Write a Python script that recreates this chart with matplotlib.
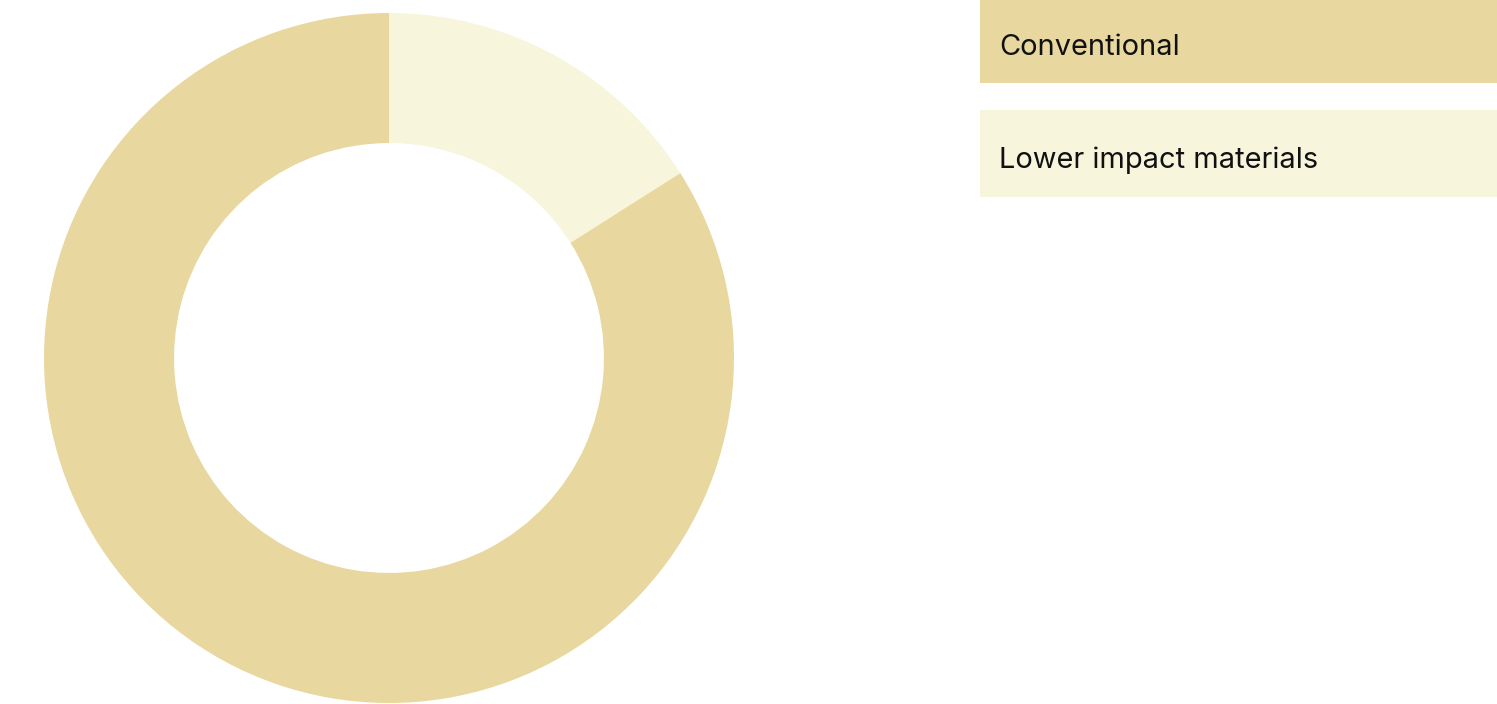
import matplotlib.pyplot as plt
from matplotlib.patches import Rectangle

categories = ["Conventional", "Lower impact materials"]
shares = [84, 16]
colors = ["#E8D79F", "#F7F5DC"]

W, H = 1497, 704
fig = plt.figure(figsize=(W / 100, H / 100), dpi=100)
plt.rcParams["font.family"] = ["Inter", "DejaVu Sans"]

# donut, centred at (389, 358) px with radius 345 px
cx, cy, r = 389, 358, 345
ax = fig.add_axes([(cx - r) / W, (H - cy - r) / H, 2 * r / W, 2 * r / H])
ax.pie(
    shares[::-1],
    colors=colors[::-1],
    startangle=90,
    counterclock=False,
    radius=1,
    wedgeprops=dict(width=0.377, linewidth=0),
)
ax.set_xlim(-1, 1)
ax.set_ylim(-1, 1)
ax.set_aspect("equal")
ax.axis("off")

# legend boxes on the right: (top, bottom, text baseline) in px
boxes = [(0, 83, 55), (110, 197, 168)]
for (top, bottom, base), label, color in zip(boxes, categories, colors):
    fig.add_artist(Rectangle(
        (980 / W, (H - bottom) / H), (W - 980) / W, (bottom - top) / H,
        transform=fig.transFigure, facecolor=color, edgecolor="none",
    ))
    fig.text(999 / W, (H - base) / H, label,
             fontsize=20.9, va="baseline", ha="left", color="#111111")

fig.savefig("out.png", dpi=100)
